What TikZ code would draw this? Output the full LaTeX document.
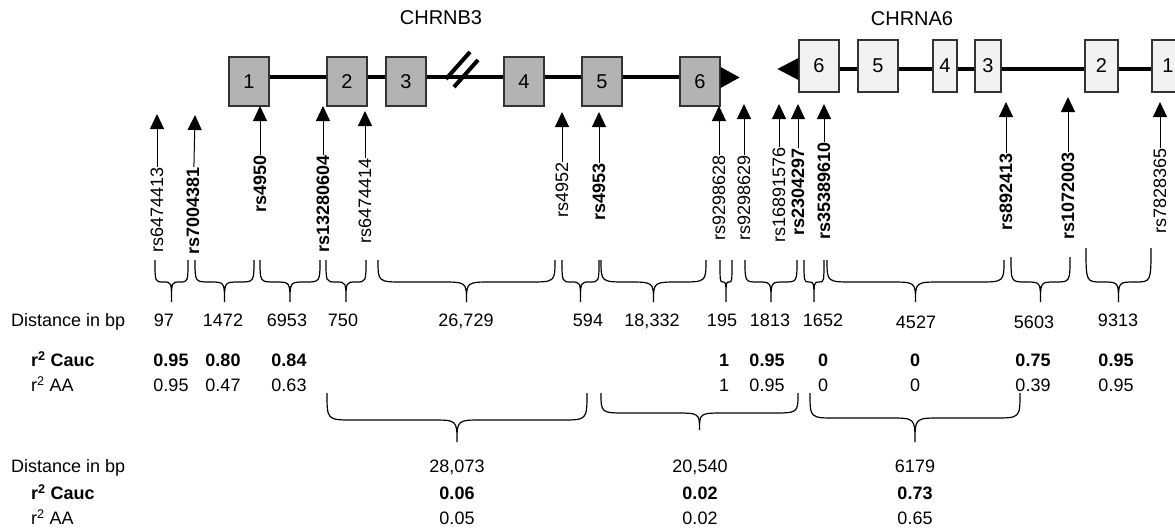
\documentclass[tikz,border=0pt]{standalone}
\usepackage{fontspec}
\setmainfont{Liberation Sans}
\usepackage{tikz}
\usetikzlibrary{arrows.meta, positioning, calc}
\usepackage{xcolor}
\definecolor{exondark}{RGB}{179,179,179}
\definecolor{exonlight}{RGB}{242,242,242}
\definecolor{edgegray}{RGB}{51,51,51}

% x1, x2, top, middle, tip
\newcommand{\gapbrace}[5]{%
  \pgfmathsetmacro{\bxm}{(#1+#2)/2}%
  \pgfmathsetmacro{\brr}{min(26,(#2-#1)/4)}%
  \draw[bracestyle] (#1,#3) .. controls (#1,#4) .. (#1+\brr,#4) -- (\bxm-\brr,#4)
    .. controls (\bxm,#4) .. (\bxm,#5) .. controls (\bxm,#4) .. (\bxm+\brr,#4)
    -- (#2-\brr,#4) .. controls (#2,#4) .. (#2,#3);}

\begin{document}
\begin{tikzpicture}[x=1pt, y=-1pt,
  exonB/.style={draw=edgegray, fill=exondark, line width=1.2pt, minimum width=40pt, minimum height=49pt, inner sep=0pt, font=\fontsize{20}{22}\selectfont},
  exonA/.style={exonB, fill=exonlight, minimum height=52pt},
  geneline/.style={line width=4pt},
  genetitle/.style={font=\fontsize{20}{22}\selectfont},
  snp/.style={rotate=90, anchor=east, inner sep=0pt, font=\fontsize{18}{20}\selectfont},
  snpb/.style={snp, font=\fontsize{18}{20}\selectfont\bfseries},
  snparrow/.style={line width=1pt, -{Triangle[width=14pt,length=15pt]}},
  cell/.style={inner sep=0pt, text height=13pt, text depth=0pt, font=\fontsize{18}{20}\selectfont},
  cellb/.style={cell, font=\fontsize{18}{20}\selectfont\bfseries},
  bracestyle/.style={line width=1.2pt}]
  \clip (0,0) rectangle (1175,530);

  \node[genetitle] (tb3) at (441,18) {CHRNB3};
  \node[genetitle] (ta6) at (912,19) {CHRNA6};

  \node[exonB] (b1) at (249,81.5) {1};
  \node[exonB] (b2) at (347,81.5) {2};
  \node[exonB] (b3) at (406,81.5) {3};
  \node[exonB] (b4) at (524,81.5) {4};
  \node[exonB] (b5) at (602,81.5) {5};
  \node[exonB] (b6) at (700,81.5) {6};
  \draw[geneline] ([yshift=4.5pt]b1.east) -- ([yshift=4.5pt]b2.west);
  \draw[geneline] ([yshift=4.5pt]b2.east) -- ([yshift=4.5pt]b3.west);
  \draw[geneline] ([yshift=4.5pt]b3.east) -- ([yshift=4.5pt]b4.west);
  \draw[geneline] ([yshift=4.5pt]b4.east) -- ([yshift=4.5pt]b5.west);
  \draw[geneline] ([yshift=4.5pt]b5.east) -- ([yshift=4.5pt]b6.west);
  \draw[line width=4pt] (446,79) -- (470,52);
  \draw[line width=4pt] (454,87) -- (478,60);
  \fill ([yshift=14.5pt]b6.east) -- ++(19,10.5) -- ++(-19,10.5) -- cycle;

  \node[exonA] (a6) at (819,66) {6};
  \node[exonA] (a5) at (878,66) {5};
  \node[exonA, minimum width=24pt] (a4) at (945,66) {4};
  \node[exonA, minimum width=26pt] (a3) at (988,66) {3};
  \node[exonA, minimum width=33pt] (a2) at (1101.5,66) {2};
  \node[exonA, minimum width=32pt] (a1) at (1168,66) {1};
  \draw[geneline] ([yshift=-3pt]a6.east) -- ([yshift=-3pt]a5.west);
  \draw[geneline] ([yshift=-3pt]a5.east) -- ([yshift=-3pt]a4.west);
  \draw[geneline] ([yshift=-3pt]a4.east) -- ([yshift=-3pt]a3.west);
  \draw[geneline] ([yshift=-3pt]a3.east) -- ([yshift=-3pt]a2.west);
  \draw[geneline] ([yshift=-3pt]a2.east) -- ([yshift=-3pt]a1.west);
  \fill ([yshift=8pt]a6.west) -- ++(-21,11) -- ++(21,11) -- cycle;

  \node[snp] (s1) at (157,167) {rs6474413};
  \coordinate (t1) at (157,114);
  \node[snpb] (s2) at (193,167) {rs7004381};
  \coordinate (t2) at (195,115);
  \node[snpb] (s3) at (260,155) {rs4950};
  \coordinate (t3) at (260,106);
  \node[snpb] (s4) at (323,155) {rs13280604};
  \coordinate (t4) at (323,106);
  \node[snp] (s5) at (365,158) {rs6474414};
  \coordinate (t5) at (365,111);
  \node[snp] (s6) at (562,162) {rs4952};
  \coordinate (t6) at (562,112);
  \node[snpb] (s7) at (599,163) {rs4953};
  \coordinate (t7) at (599,112);
  \node[snp] (s8) at (719,155) {rs9298628};
  \coordinate (t8) at (719,106);
  \node[snp] (s9) at (744,155) {rs9298629};
  \coordinate (t9) at (744,104);
  \node[snp] (s10) at (779,147) {rs16891576};
  \coordinate (t10) at (779,104);
  \node[snpb] (s11) at (798,148) {rs2304297};
  \coordinate (t11) at (798,104);
  \node[snpb] (s12) at (824,142) {rs35389610};
  \coordinate (t12) at (824,104);
  \node[snpb] (s13) at (1006,153) {rs892413};
  \coordinate (t13) at (1006,102);
  \node[snpb] (s14) at (1068,152) {rs1072003};
  \coordinate (t14) at (1068,97);
  \node[snp] (s15) at (1160,148) {rs7828365};
  \coordinate (t15) at (1160,102);
  \draw[snparrow] (s1) -- (t1);
  \draw[snparrow] (s2) -- (t2);
  \draw[snparrow] (s3) -- (t3);
  \draw[snparrow] (s4) -- (t4);
  \draw[snparrow] (s5) -- (t5);
  \draw[snparrow] (s6) -- (t6);
  \draw[snparrow] (s7) -- (t7);
  \draw[snparrow] (s8) -- (t8);
  \draw[snparrow] (s9) -- (t9);
  \draw[snparrow] (s10) -- (t10);
  \draw[snparrow] (s11) -- (t11);
  \draw[snparrow] (s12) -- (t12);
  \draw[snparrow] (s13) -- (t13);
  \draw[snparrow] (s14) -- (t14);
  \draw[snparrow] (s15) -- (t15);

  \gapbrace{155}{188}{260}{282}{302}
  \gapbrace{195}{254}{260}{282}{302}
  \gapbrace{260}{320}{260}{282}{302}
  \gapbrace{326}{366}{260}{282}{302}
  \gapbrace{378}{555}{260}{282}{302}
  \gapbrace{562}{599}{260}{282}{302}
  \gapbrace{601}{706}{260}{282}{302}
  \gapbrace{720}{732}{260}{282}{302}
  \gapbrace{745}{797}{260}{282}{302}
  \gapbrace{804}{824}{260}{282}{302}
  \gapbrace{827}{1004}{260}{282}{302}
  \gapbrace{1011}{1070}{257}{282}{302}
  \gapbrace{1086}{1151}{248}{282}{302}

  \node[cell, anchor=west] (dist) at (11,320) {Distance in bp};
  \node[cellb, anchor=west] (cauc) at (31,360) {r\textsuperscript{2} Cauc};
  \node[cell, anchor=west] (aa) at (31,385) {r\textsuperscript{2} AA};

  \node[cell] (d1) at (164,320) {97};
  \node[cell] (d2) at (223,320) {1472};
  \node[cell] (d3) at (287,320) {6953};
  \node[cell] (d4) at (343,320) {750};
  \node[cell] (d5) at (466,320) {26,729};
  \node[cell] (d6) at (588,320) {594};
  \node[cell] (d7) at (652,320) {18,332};
  \node[cell] (d8) at (722,320) {195};
  \node[cell] (d9) at (770,320) {1813};
  \node[cell] (d10) at (823,320) {1652};
  \node[cell] (d11) at (916,322) {4527};
  \node[cell] (d12) at (1034,322) {5603};
  \node[cell] (d13) at (1118,320) {9313};

  \node[cellb] (c1) at (171,360) {0.95};
  \node[cellb] (c2) at (223,360) {0.80};
  \node[cellb] (c3) at (289,360) {0.84};
  \node[cellb] (c8) at (724,360) {1};
  \node[cellb] (c9) at (767,360) {0.95};
  \node[cellb] (c10) at (823,360) {0};
  \node[cellb] (c11) at (915,360) {0};
  \node[cellb] (c12) at (1033,360) {0.75};
  \node[cellb] (c13) at (1116,360) {0.95};

  \node[cell] (e1) at (171,385) {0.95};
  \node[cell] (e2) at (223,385) {0.47};
  \node[cell] (e3) at (289,385) {0.63};
  \node[cell] (e8) at (724,385) {1};
  \node[cell] (e9) at (767,385) {0.95};
  \node[cell] (e10) at (823,385) {0};
  \node[cell] (e11) at (915,385) {0};
  \node[cell] (e12) at (1033,385) {0.39};
  \node[cell] (e13) at (1116,385) {0.95};

  \gapbrace{327}{587}{393}{420}{442}
  \gapbrace{601}{798}{393}{413}{430}
  \gapbrace{810}{1020}{393}{418}{442}

  \node[cell, anchor=west] (dist2) at (11,466) {Distance in bp};
  \node[cellb, anchor=west] (cauc2) at (31,493) {r\textsuperscript{2} Cauc};
  \node[cell, anchor=west] (aa2) at (31,518) {r\textsuperscript{2} AA};

  \node[cell] (f1) at (457,466) {28,073};
  \node[cellb] (g1) at (457,493) {0.06};
  \node[cell] (h1) at (457,518) {0.05};
  \node[cell] (f2) at (700,466) {20,540};
  \node[cellb] (g2) at (700,493) {0.02};
  \node[cell] (h2) at (700,518) {0.02};
  \node[cell] (f3) at (915,466) {6179};
  \node[cellb] (g3) at (915,493) {0.73};
  \node[cell] (h3) at (915,518) {0.65};
\end{tikzpicture}
\end{document}
